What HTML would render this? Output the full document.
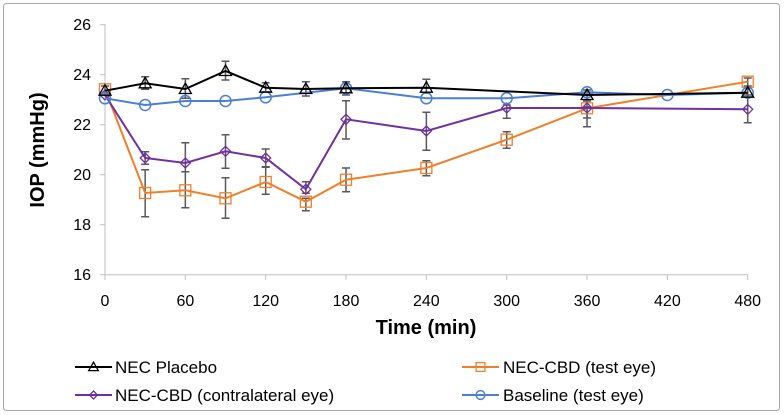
<!DOCTYPE html>
<html><head><meta charset="utf-8"><style>
html,body{margin:0;padding:0;background:#fff;}
svg{display:block;font-family:"Liberation Sans",Arial,sans-serif;}
</style></head><body>
<svg id="s" width="784" height="415" viewBox="0 0 784 415" xmlns="http://www.w3.org/2000/svg">
<rect x="3.5" y="3.5" width="776" height="407" rx="3" fill="#fff" stroke="#a6a6a6" stroke-width="1"/>
<g stroke="#bfbfbf" stroke-width="1">
<line x1="105" y1="24" x2="105" y2="275"/>
<line x1="105" y1="274.7" x2="748" y2="274.7"/>
<line x1="100" y1="24.7" x2="105" y2="24.7"/>
<line x1="100" y1="74.7" x2="105" y2="74.7"/>
<line x1="100" y1="124.7" x2="105" y2="124.7"/>
<line x1="100" y1="174.7" x2="105" y2="174.7"/>
<line x1="100" y1="224.7" x2="105" y2="224.7"/>
<line x1="100" y1="274.7" x2="105" y2="274.7"/>
</g>
<g id="xt" stroke="#bfbfbf"></g>
<g font-size="16" fill="#000" text-anchor="end">
<text x="91" y="30">26</text><text x="91" y="80">24</text><text x="91" y="130">22</text>
<text x="91" y="180">20</text><text x="91" y="230">18</text><text x="91" y="280">16</text>
</g>
<g id="xl" font-size="16" fill="#000" text-anchor="middle"></g>
<text x="426" y="334" font-size="20" font-weight="bold" text-anchor="middle">Time (min)</text>
<text transform="translate(44,150) rotate(-90)" font-size="20" font-weight="bold" text-anchor="middle">IOP (mmHg)</text>
<g id="d"></g>
<g font-size="17" fill="#000">
<text x="115" y="373">NEC Placebo</text>
<text x="503" y="373">NEC-CBD (test eye)</text>
<text x="115" y="401">NEC-CBD (contralateral eye)</text>
<text x="503" y="401">Baseline (test eye)</text>
</g>
<g id="lg"></g>
</svg>
<script>
const NS="http://www.w3.org/2000/svg";
function el(p,t,a){const e=document.createElementNS(NS,t);for(const k in a)e.setAttribute(k,a[k]);p.appendChild(e);return e;}
const X=t=>105+t*1.339;
const xt=document.getElementById('xt'),xl=document.getElementById('xl');
[0,60,120,180,240,300,360,420,480].forEach(t=>{el(xt,'line',{x1:X(t),y1:274.7,x2:X(t),y2:280});const tx=el(xl,'text',{x:X(t),y:306});tx.textContent=t;});
const d=document.getElementById('d');
function marker(g,type,x,y,c,s){
 s=s||1;
 if(type=='tri')el(g,'path',{d:`M${x} ${y-6*s}L${x+6*s} ${y+4.5*s}L${x-6*s} ${y+4.5*s}Z`,fill:'none',stroke:c,'stroke-width':1.3});
 if(type=='sq')el(g,'rect',{x:x-5.5*s,y:y-5.5*s,width:11*s,height:11*s,fill:'none',stroke:c,'stroke-width':1.3});
 if(type=='dia')el(g,'path',{d:`M${x} ${y-5*s}L${x+5*s} ${y}L${x} ${y+5*s}L${x-5*s} ${y}Z`,fill:'none',stroke:c,'stroke-width':1.3});
 if(type=='circ')el(g,'circle',{cx:x,cy:y,r:5.5*s,fill:'none',stroke:c,'stroke-width':1.5});
}
const series=[
 {c:'#f07f2a',m:'sq',p:[[0,89.3],[30,193],[60,190.3],[90,198.3],[120,182],[150,201.7],[180,179.7],[240,168],[300,139.7],[360,108.3],[480,81.7]],
  e:[[30,169.7,216.7],[60,171.7,207.7],[90,177.7,218.3],[120,166.7,194.3],[150,198.3,210.7],[180,168,191.7],[240,160.7,175.7],[300,131.7,148.3],[360,101,118],[480,78,86]]},
 {c:'#7030a0',m:'dia',p:[[0,95],[30,158],[60,163],[90,151.3],[120,158],[150,189.3],[180,119.3],[240,131],[300,108],[360,108],[480,109.3]],
  e:[[30,151.7,164.3],[60,142.7,171.7],[90,134.7,168.3],[120,149,167.3],[150,181.7,193.3],[180,100.7,139],[240,112.3,150.3],[300,105,118.3],[360,106.7,126.7],[480,95,122.7]]},
 {c:'#4a7fd4',m:'circ',p:[[0,98.3],[30,105],[60,101],[90,101],[120,97.3],[180,88.3],[240,98.3],[300,98.3],[360,92.3],[420,95],[480,92.7]],e:[]},
 {c:'#000',m:'tri',p:[[0,90.7],[30,83.3],[60,89],[90,71],[120,87.7],[150,89],[180,88.3],[240,87.7],[360,95],[480,92.7]],
  e:[[0,86,95],[30,76.7,89.3],[60,78.7,98.3],[90,61.3,80],[120,82.7,91.7],[150,81.7,96],[180,81.7,95],[240,79.3,93.3],[360,90,100],[480,88,97]]}
];
series.forEach(s=>{s.e.forEach(([t,a,b])=>{const x=X(t);el(d,'path',{d:`M${x} ${a}V${b}M${x-4} ${a}H${x+4}M${x-4} ${b}H${x+4}`,stroke:'#595959','stroke-width':1.5,fill:'none'});});});
series.forEach(s=>{
 el(d,'polyline',{points:s.p.map(([t,y])=>X(t)+','+y).join(' '),fill:'none',stroke:s.c,'stroke-width':2});
 s.p.forEach(([t,y])=>marker(d,s.m,X(t),y,s.c));
});
const lg=document.getElementById('lg');
[[75,367,'#000','tri'],[462,367,'#f07f2a','sq'],[75,395,'#7030a0','dia'],[462,395,'#4a7fd4','circ']].forEach(([x,y,c,m])=>{
 el(lg,'line',{x1:x,y1:y,x2:x+37,y2:y,stroke:c,'stroke-width':2});
 const g=el(lg,'g',{});marker(g,m,x+18.5,y,c,0.8);
});
</script>
</body></html>
